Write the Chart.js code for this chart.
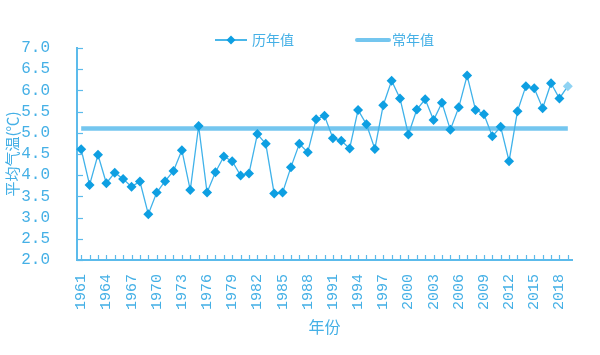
<!DOCTYPE html>
<html>
<head>
<meta charset="utf-8">
<script src="https://cdn.jsdelivr.net/npm/chart.js@4.4.1/dist/chart.umd.min.js"></script>
<style>
html,body{margin:0;padding:0;background:#fff;}
#wrap{width:600px;height:355px;position:relative;}
</style>
</head>
<body>
<div id="wrap"><canvas id="c" width="600" height="355"></canvas></div>
<script>
const years = ['1961','1962','1963','1964','1965','1966','1967','1968','1969','1970',
  '1971','1972','1973','1974','1975','1976','1977','1978','1979','1980',
  '1981','1982','1983','1984','1985','1986','1987','1988','1989','1990',
  '1991','1992','1993','1994','1995','1996','1997','1998','1999','2000',
  '2001','2002','2003','2004','2005','2006','2007','2008','2009','2010',
  '2011','2012','2013','2014','2015','2016','2017','2018','2019'];
const annualValues = [4.61,3.77,4.48,3.81,4.06,3.91,3.73,3.85,3.08,3.59,
  3.86,4.10,4.59,3.65,5.16,3.59,4.07,4.44,4.33,3.99,
  4.04,4.97,4.74,3.57,3.59,4.19,4.74,4.54,5.32,5.40,
  4.87,4.81,4.63,5.54,5.20,4.62,5.65,6.23,5.81,4.96,
  5.55,5.79,5.30,5.71,5.07,5.60,6.35,5.54,5.44,4.92,
  5.14,4.33,5.51,6.10,6.05,5.58,6.17,5.81,6.10];
const normalValue = 5.1;
const normalValues = years.map(() => normalValue);
const seriesNames = ['历年值', '常年值'];
const yTitle = '平均气温(℃)';
const xTitle = '年份';

const LINE = '#3fb2ea';
const MARK = '#0e9fe2';
const NORMAL = '#74c6ef';
const TEXT = '#45b0e6';
const AXIS = '#5cbbeb';

const whiteBg = {
  id: 'whiteBg',
  beforeDraw(chart) {
    const ctx = chart.ctx;
    ctx.save();
    ctx.fillStyle = '#fff';
    ctx.fillRect(0, 0, chart.width, chart.height);
    ctx.restore();
  }
};

const innerTicks = {
  id: 'innerTicks',
  afterDraw(chart) {
    const ctx = chart.ctx;
    const x = chart.scales.x, y = chart.scales.y;
    ctx.save();
    ctx.strokeStyle = AXIS;
    ctx.lineWidth = 1.2;
    y.ticks.forEach(t => {
      const py = Math.round(y.getPixelForValue(t.value)) + 0.5;
      ctx.beginPath();
      ctx.moveTo(y.right, py);
      ctx.lineTo(y.right + 6, py);
      ctx.stroke();
    });
    for (let i = 0; i < years.length; i++) {
      const px = Math.round(x.getPixelForValue(i)) + 0.5;
      ctx.beginPath();
      ctx.moveTo(px, x.top);
      ctx.lineTo(px, x.top - 5);
      ctx.stroke();
    }
    // legend
    const ly = 40;
    ctx.font = '14px "Noto Sans CJK SC"';
    ctx.textBaseline = 'middle';
    ctx.strokeStyle = MARK;
    ctx.lineWidth = 1.5;
    ctx.beginPath(); ctx.moveTo(215, ly); ctx.lineTo(247, ly); ctx.stroke();
    ctx.fillStyle = MARK;
    ctx.beginPath();
    ctx.moveTo(231, ly - 4.5); ctx.lineTo(235.5, ly); ctx.lineTo(231, ly + 4.5); ctx.lineTo(226.5, ly);
    ctx.closePath(); ctx.fill();
    ctx.fillStyle = TEXT;
    ctx.fillText(seriesNames[0], 252, ly);
    ctx.strokeStyle = NORMAL;
    ctx.lineWidth = 4;
    ctx.lineCap = 'round';
    ctx.beginPath(); ctx.moveTo(357, ly); ctx.lineTo(389, ly); ctx.stroke();
    ctx.fillText(seriesNames[1], 392, ly);
    ctx.restore();
  }
};

new Chart(document.getElementById('c'), {
  type: 'line',
  data: {
    labels: years,
    datasets: [
      {
        label: seriesNames[0],
        data: annualValues,
        borderColor: LINE,
        borderWidth: 1.3,
        pointStyle: 'rectRot',
        pointRadius: 5,
        pointBorderWidth: 0,
        pointBackgroundColor: ctx => ctx.dataIndex === annualValues.length - 1 ? '#8fd3f3' : MARK,
        pointBorderColor: ctx => ctx.dataIndex === annualValues.length - 1 ? '#8fd3f3' : MARK,
        tension: 0,
        order: 1
      },
      {
        label: seriesNames[1],
        data: normalValues,
        borderColor: NORMAL,
        borderWidth: 4.5,
        pointRadius: 0,
        tension: 0,
        order: 2
      }
    ]
  },
  options: {
    responsive: false,
    animation: false,
    events: [],
    layout: { padding: { top: 48, right: 22, left: 0, bottom: 0 } },
    plugins: { legend: { display: false }, tooltip: { enabled: false } },
    scales: {
      x: {
        type: 'category',
        offset: true,
        grid: { display: false, drawTicks: false },
        border: { display: true, color: AXIS, width: 2 },
        ticks: {
          autoSkip: false,
          minRotation: 90,
          maxRotation: 90,
          padding: 14,
          color: TEXT,
          font: { family: '"Liberation Mono", monospace', size: 15 },
          callback: (v, i) => (i % 3 === 0 ? years[i] : '')
        },
        title: {
          display: true,
          text: xTitle,
          color: TEXT,
          font: { family: '"Noto Sans CJK SC"', size: 16 },
          padding: { top: 0, bottom: 18 }
        },
        afterFit: s => { s.height = 95; }
      },
      y: {
        min: 2,
        max: 7,
        grid: { display: false, drawTicks: false },
        border: { display: true, color: AXIS, width: 2 },
        ticks: {
          stepSize: 0.5,
          autoSkip: false,
          padding: 27,
          color: TEXT,
          font: { family: '"Liberation Mono", monospace', size: 16 },
          callback: v => Number(v).toFixed(1)
        },
        title: {
          display: true,
          text: yTitle,
          color: TEXT,
          font: { family: '"Noto Sans CJK SC"', size: 15 },
          padding: { top: 3, bottom: 0 }
        },
        afterFit: s => { s.width = 77; }
      }
    }
  },
  plugins: [whiteBg, innerTicks]
});
</script>
</body>
</html>
